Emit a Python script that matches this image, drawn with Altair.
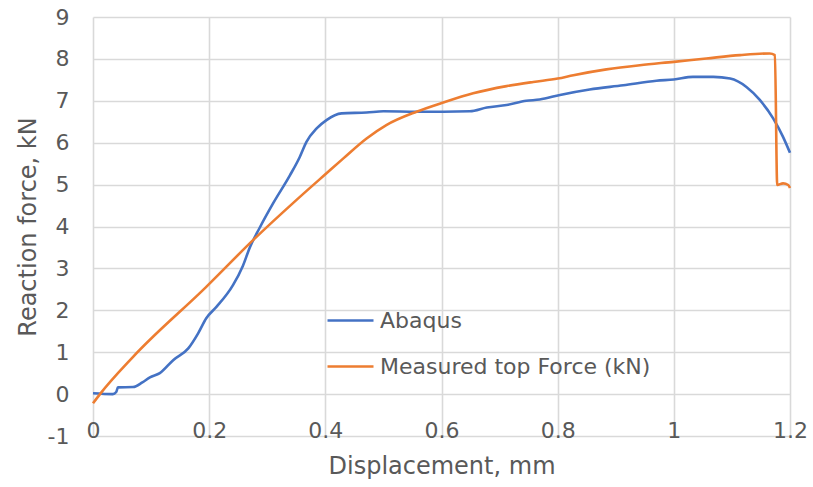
import altair as alt
import pandas as pd

# Abaqus simulation curve
abaqus_x = [0.0, 0.034, 0.040, 0.043, 0.069, 0.085, 0.098, 0.115, 0.138, 0.164, 0.181, 0.195,
            0.2125, 0.241, 0.258, 0.270, 0.287, 0.310, 0.339, 0.356, 0.3675, 0.385, 0.402, 0.428,
            0.471, 0.500, 0.557, 0.603, 0.649, 0.678, 0.712, 0.746, 0.769, 0.804, 0.855, 0.913,
            0.970, 1.000, 1.033, 1.068, 1.097, 1.125, 1.148, 1.171, 1.188, 1.200]
abaqus_y = [0.02, 0.0, 0.05, 0.16, 0.17, 0.28, 0.40, 0.50, 0.81, 1.09, 1.45, 1.81,
            2.08, 2.60, 3.06, 3.50, 3.97, 4.55, 5.22, 5.66, 6.02, 6.34, 6.54, 6.70,
            6.72, 6.75, 6.74, 6.74, 6.75, 6.84, 6.90, 7.00, 7.03, 7.14, 7.27, 7.37,
            7.48, 7.51, 7.57, 7.57, 7.53, 7.33, 7.02, 6.58, 6.14, 5.76]

# Measured curve
measured_x = [0.0, 0.012, 0.069, 0.195, 0.276, 0.350, 0.402, 0.4306, 0.471, 0.505, 0.557,
              0.603, 0.6545, 0.712, 0.758, 0.800, 0.827, 0.884, 0.9416, 1.000, 1.056, 1.114,
              1.165, 1.174, 1.178, 1.188, 1.197, 1.200]
measured_y = [-0.22, 0.0, 0.89, 2.56, 3.68, 4.63, 5.27, 5.62, 6.10, 6.42, 6.74,
              6.96, 7.18, 7.35, 7.45, 7.53, 7.61, 7.75, 7.85, 7.93, 8.01, 8.09,
              8.13, 8.09, 4.99, 5.03, 4.99, 4.92]

series_names = ["Abaqus", "Measured top Force (kN)"]
series_colors = ["#4472C4", "#ED7D31"]
x_ticks = [0, 0.2, 0.4, 0.6, 0.8, 1.0, 1.2]
y_ticks = [-1, 0, 1, 2, 3, 4, 5, 6, 7, 8, 9]

rows = []
for i, (x, y) in enumerate(zip(abaqus_x, abaqus_y)):
    rows.append({"series": series_names[0], "x": x, "y": y, "i": i})
for i, (x, y) in enumerate(zip(measured_x, measured_y)):
    rows.append({"series": series_names[1], "x": x, "y": y, "i": i})
df = pd.DataFrame(rows)

FONT = "DejaVu Sans"
GREY = "#595959"

chart = alt.Chart(df).mark_line(strokeWidth=2.6, interpolate="monotone").encode(
    x=alt.X("x:Q", scale=alt.Scale(domain=[0, 1.2], nice=False, zero=False),
            axis=alt.Axis(values=x_ticks, format="~g", title="Displacement, mm",
                          ticks=False, tickSize=0, domain=False,
                          labelBaseline="alphabetic", labelPadding=1,
                          labelFontSize=22, labelColor=GREY, labelFont=FONT,
                          labelFlush=False, labelOverlap=False,
                          titleFontSize=24, titleColor=GREY, titleFont=FONT,
                          titleFontWeight="normal", titleBaseline="alphabetic",
                          titleY=37, titleX=348.5,
                          gridColor="#d9d9d9", gridWidth=1.6)),
    y=alt.Y("y:Q", scale=alt.Scale(domain=[-1, 9], nice=False, zero=False),
            axis=alt.Axis(values=y_ticks, labelExpr="datum.value + ''",
                          title="Reaction force, kN",
                          ticks=False, tickSize=0, domain=False,
                          labelPadding=24, labelFontSize=22, labelColor=GREY,
                          labelFont=FONT, labelOverlap=False,
                          titleFontSize=24, titleColor=GREY, titleFont=FONT,
                          titleFontWeight="normal", titleBaseline="alphabetic",
                          titleAngle=270, titleX=-58, titleY=209.5, titleAlign="center",
                          gridColor="#d9d9d9", gridWidth=1.6)),
    color=alt.Color("series:N",
                    scale=alt.Scale(domain=series_names, range=series_colors),
                    legend=alt.Legend(title=None, orient="none", legendX=233, legendY=279,
                                      symbolType="stroke", symbolSize=2116,
                                      symbolStrokeWidth=2.5, rowPadding=10, padding=0,
                                      labelOffset=5, labelFontSize=22, labelColor=GREY,
                                      labelFont=FONT, labelLimit=400,
                                      labelExpr="datum.label == 'Abaqus' ? datum.label : '\u00a0' + datum.label")),
    order="i:Q",
).properties(
    width=697, height=419,
    autosize=alt.AutoSizeParams(type="none"),
    padding={"left": 93, "top": 17, "right": 23, "bottom": 51},
    background="white",
).configure_view(stroke=None)

chart.save("out.html", embed_options={"renderer": "svg", "actions": False})
